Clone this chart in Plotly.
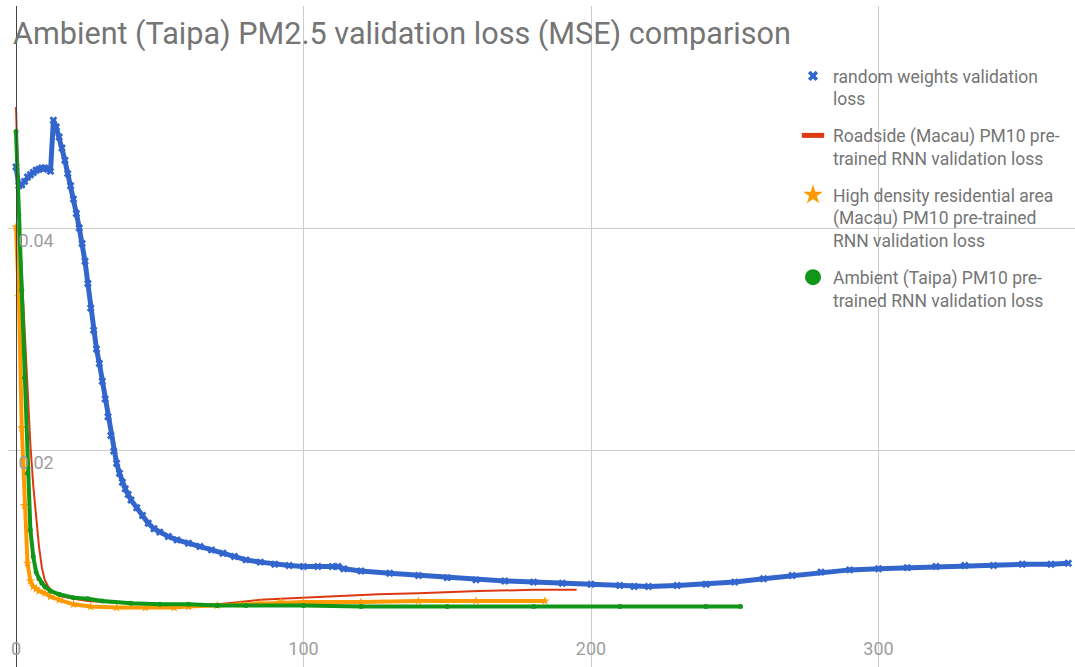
import plotly.graph_objects as go

# ---------------- data ----------------
title_text = "Ambient (Taipa) PM2.5 validation loss (MSE) comparison"

series_names = [
    "random weights validation<br>loss",
    "Roadside (Macau) PM10 pre-<br>trained RNN validation loss",
    "High density residential area<br>(Macau) PM10 pre-trained<br>RNN validation loss",
    "Ambient (Taipa) PM10 pre-<br>trained RNN validation loss",
]

blue_x = [0, 1, 2, 3, 4, 5, 6, 7, 8, 9, 10, 11, 12, 13, 14, 15, 16, 17, 18, 19, 20,
          21, 22, 23, 24, 25, 26, 27, 28, 29, 30, 31, 32, 33, 34, 35, 36, 37, 38, 39, 40,
          42, 44, 46, 48, 50, 53, 56, 60, 64, 68, 72, 76, 80, 85, 90, 95, 100, 105, 110,
          112, 114, 120, 130, 140, 150, 160, 170, 180, 190, 200, 210, 215, 220, 230, 240,
          250, 260, 270, 280, 290, 300, 310, 320, 330, 340, 350, 360, 366]
blue_y = [0.0455, 0.0438, 0.0439, 0.0442, 0.0446, 0.0448, 0.0450, 0.0452, 0.0453, 0.0454,
          0.0454, 0.0453, 0.0451, 0.0497, 0.0491, 0.0482, 0.0472, 0.0461, 0.0449, 0.0438,
          0.0426, 0.0413, 0.0400, 0.0386, 0.0370, 0.0350, 0.0328, 0.0308, 0.0291, 0.0278,
          0.0262, 0.0246, 0.0230, 0.0213, 0.0199, 0.0188, 0.0179, 0.0171, 0.0165, 0.0160,
          0.0155, 0.0148, 0.0141, 0.0134, 0.0129, 0.0126, 0.0122, 0.0119, 0.0116, 0.0113,
          0.0110, 0.0107, 0.0104, 0.0101, 0.0099, 0.0097, 0.0096, 0.0095, 0.0095, 0.0095,
          0.0095, 0.0093, 0.0091, 0.0089, 0.0087, 0.0085, 0.0083, 0.0082, 0.0081, 0.0080,
          0.0079, 0.0078, 0.0077, 0.0077, 0.0078, 0.0079, 0.0081, 0.0084, 0.0087, 0.0090,
          0.0092, 0.0093, 0.0094, 0.0095, 0.0096, 0.0096, 0.0097, 0.0097, 0.0098]

red_x = [0, 1, 2, 3, 4, 5, 6, 7, 8, 9, 10, 11, 12, 14, 16, 20, 25, 30, 40, 50, 60, 70,
         78, 85, 92, 100, 110, 126, 140, 161, 180, 195]
red_y = [0.0509, 0.0415, 0.0360, 0.0305, 0.0255, 0.0205, 0.0168, 0.0138, 0.0113, 0.0094,
         0.0083, 0.0078, 0.0074, 0.0070, 0.0068, 0.0066, 0.0064, 0.0063, 0.0062, 0.0061,
         0.0061, 0.0061, 0.0063, 0.0065, 0.0066, 0.0067, 0.0068, 0.0070, 0.0071, 0.0073,
         0.0074, 0.0074]

orange_x = [0, 1, 2, 3, 4, 5, 6, 7, 8, 10, 12, 15, 20, 26, 35, 45, 55, 60, 70, 78, 85,
            92, 100, 120, 140, 160, 184]
orange_y = [0.0401, 0.0338, 0.0220, 0.0150, 0.0098, 0.0082, 0.0077, 0.0075, 0.0073,
            0.0071, 0.0068, 0.0065, 0.0061, 0.0059, 0.0058, 0.0058, 0.0058, 0.0059,
            0.0060, 0.0061, 0.0062, 0.0063, 0.0063, 0.0063, 0.0064, 0.0064, 0.0064]

green_x = [0, 1, 2, 3, 4, 5, 6, 7, 8, 9, 10, 12, 15, 20, 25, 30, 40, 50, 60, 70, 80,
           100, 120, 150, 180, 210, 240, 252]
green_y = [0.0487, 0.0412, 0.0344, 0.0265, 0.0179, 0.0128, 0.0104, 0.0090, 0.0084,
           0.0080, 0.0077, 0.0073, 0.0070, 0.0067, 0.0066, 0.0064, 0.0062, 0.0061,
           0.0061, 0.0060, 0.0060, 0.0060, 0.0059, 0.0059, 0.0059, 0.0059, 0.0059, 0.0059]

x_ticks = [0, 100, 200, 300]
x_tick_text = ["0", "100", "200", "300"]
y_ticks = [0.02, 0.04, 0.06]
y_tick_text = ["0.02", "0.04", ""]

# ---------------- styling ----------------
BLUE = "#3366CC"
RED = "#DC3912"
ORANGE = "#FF9900"
GREEN = "#109618"
W, H = 1075, 667

fig = go.Figure()

# data traces
fig.add_trace(go.Scatter(x=blue_x, y=blue_y, mode="lines+markers", legendgroup="b",
                         showlegend=False, line=dict(color=BLUE, width=5),
                         marker=dict(symbol="x", size=7, color=BLUE)))
fig.add_trace(go.Scatter(x=red_x, y=red_y, mode="lines", legendgroup="r",
                         showlegend=False, line=dict(color=RED, width=2)))
fig.add_trace(go.Scatter(x=orange_x, y=orange_y, mode="lines+markers", legendgroup="o",
                         showlegend=False, line=dict(color=ORANGE, width=4),
                         marker=dict(symbol="star", size=7, color=ORANGE)))
fig.add_trace(go.Scatter(x=green_x, y=green_y, mode="lines+markers", legendgroup="g",
                         showlegend=False, line=dict(color=GREEN, width=4),
                         marker=dict(symbol="circle", size=5, color=GREEN)))

# legend entries
fig.add_trace(go.Scatter(x=[None], y=[None], mode="markers", name=series_names[0],
                         legendgroup="b", marker=dict(symbol="x", size=9, color=BLUE)))
fig.add_trace(go.Scatter(x=[None], y=[None], mode="markers", name=series_names[1],
                         legendgroup="r",
                         marker=dict(symbol="line-ew", size=16, color=RED,
                                     line=dict(color=RED, width=5))))
fig.add_trace(go.Scatter(x=[None], y=[None], mode="markers", name=series_names[2],
                         legendgroup="o", marker=dict(symbol="star", size=15, color=ORANGE)))
fig.add_trace(go.Scatter(x=[None], y=[None], mode="markers", name=series_names[3],
                         legendgroup="g", marker=dict(symbol="circle", size=16, color=GREEN)))

x0_px = 16.0
px_per_x = 2.875
left_px = 8.0
x_min = (left_px - x0_px) / px_per_x
x_max = (W - x0_px) / px_per_x

fig.update_layout(
    width=W, height=H, autosize=False,
    margin=dict(l=0, r=0, t=0, b=0, pad=0),
    paper_bgcolor="white", plot_bgcolor="white",
    font=dict(family="Roboto", color="#757575"),
    title=dict(text=title_text, x=13 / W, xanchor="left", xref="container",
               y=1 - 33 / H, yanchor="middle", yref="container",
               font=dict(family="Roboto", size=30.6, color="#757575")),
    showlegend=True,
    legend=dict(x=793 / W, xanchor="left", y=1 - 58 / H, yanchor="top",
                bgcolor="rgba(0,0,0,0)", borderwidth=0,
                font=dict(family="Roboto", size=17.5, color="#757575"),
                valign="top", tracegroupgap=11, traceorder="grouped",
                itemwidth=30),
    xaxis=dict(domain=[left_px / W, 1], range=[x_min, x_max],
               anchor="free", position=0,
               tickvals=x_ticks, ticktext=x_tick_text,
               showgrid=True, gridcolor="#cccccc", gridwidth=1,
               zeroline=False, showline=False, ticks="",
               ticklabelposition="inside", ticklabelstandoff=5,
               tickfont=dict(family="Roboto", size=18, color="#9e9e9e")),
    yaxis=dict(domain=[0, 1 - 6 / H], range=[0.00045, 0.06],
               anchor="free", position=x0_px / W, side="right",
               tickvals=y_ticks, ticktext=y_tick_text,
               showgrid=True, gridcolor="#cccccc", gridwidth=1,
               zeroline=False, showline=True, linecolor="#444444", linewidth=1,
               ticks="", ticklabelposition="outside bottom", ticklabelstandoff=-2,
               tickfont=dict(family="Roboto", size=18, color="#9e9e9e")),
)

fig.write_html("out.html", config={"displayModeBar": False},
               post_script="document.body.style.margin='0';document.body.style.padding='0';")
